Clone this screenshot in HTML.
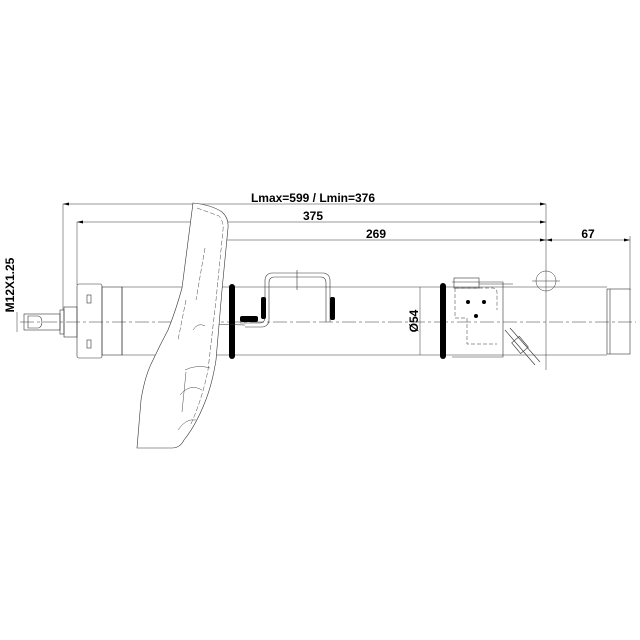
<!DOCTYPE html>
<html><head><style>html,body{margin:0;padding:0;background:#fff}svg{display:block}</style></head>
<body>
<svg width="640" height="640" viewBox="0 0 640 640" xmlns="http://www.w3.org/2000/svg" font-family="Liberation Sans, sans-serif" font-weight="bold" fill="none" stroke="#333" stroke-width="0.6">
<rect width="640" height="640" fill="#fff" stroke="none"/>
<g stroke-width="0.5">
<line x1="63" y1="204" x2="546" y2="204"/>
<line x1="77" y1="222" x2="546" y2="222"/>
<line x1="208" y1="240" x2="630" y2="240"/>
<line x1="63" y1="204" x2="63" y2="310"/>
<line x1="77" y1="222" x2="77" y2="285"/>
<line x1="208" y1="240" x2="208" y2="300"/>
<line x1="546" y1="204" x2="546" y2="370"/>
<line x1="630" y1="236" x2="630" y2="290"/>
<line x1="17" y1="312" x2="17" y2="332"/>
<line x1="420" y1="287" x2="420" y2="355"/>
</g>
<g fill="#000" stroke="none">
<polygon points="63,204 69,202.5 69,205.5"/>
<polygon points="546,204 540,202.5 540,205.5"/>
<polygon points="77,222 83,220.5 83,223.5"/>
<polygon points="546,222 540,220.5 540,223.5"/>
<polygon points="208,240 214,238.5 214,241.5"/>
<polygon points="546,240 540,238.5 540,241.5"/>
<polygon points="546,240 552,238.5 552,241.5"/>
<polygon points="630,240 624,238.5 624,241.5"/>
<text x="313" y="202" font-size="12" text-anchor="middle">Lmax=599 / Lmin=376</text>
<text x="313" y="220" font-size="12" text-anchor="middle">375</text>
<text x="376" y="238" font-size="12" text-anchor="middle">269</text>
<text x="588" y="238" font-size="12" text-anchor="middle">67</text>
<text transform="translate(14,285) rotate(-90)" font-size="12" text-anchor="middle">M12X1.25</text>
<text transform="translate(418,321) rotate(-90)" font-size="12" text-anchor="middle">Ø54</text>
</g>
<line x1="20" y1="322" x2="636" y2="322" stroke-width="0.5" stroke-dasharray="14,3,3,3"/>
<rect x="24" y="314" width="36" height="16"/>
<path d="M28,316 h10 a4,6 0 0 1 0,12 h-10z"/>
<rect x="60" y="310" width="4" height="24"/>
<rect x="64" y="307" width="13" height="30"/>
<rect x="77" y="284" width="25" height="74" rx="2"/>
<rect x="87" y="295" width="4" height="8"/><rect x="87" y="340" width="4" height="8"/>
<rect x="102" y="287" width="20" height="68"/>
<line x1="122" y1="287" x2="607" y2="287"/>
<line x1="122" y1="355" x2="607" y2="355"/>
<line x1="122" y1="287" x2="122" y2="355"/>
<rect x="607" y="289" width="23" height="65"/>
<line x1="610" y1="289" x2="610" y2="354"/>
<rect x="229" y="284" width="6" height="75" rx="3" fill="#000" stroke="none"/>
<rect x="440" y="283" width="6" height="76" rx="3" fill="#000" stroke="none"/>
<path d="M240,323 h20 a5,5 0 0 0 5,-5 v-38 a7,7 0 0 1 7,-7 h51 a7,7 0 0 1 7,7 v42"/>
<path d="M245,327 h17 a7,7 0 0 0 7,-7 v-38 a5,5 0 0 1 5,-5 h47 a5,5 0 0 1 5,5 v40"/>
<line x1="297" y1="270" x2="297" y2="290"/>
<rect x="261" y="297" width="5" height="22" rx="2" fill="#000" stroke="none"/>
<rect x="330" y="297" width="5" height="23" rx="2" fill="#000" stroke="none"/>
<rect x="240" y="316" width="18" height="6" rx="2" fill="#000" stroke="none"/>
<line x1="210" y1="324" x2="245" y2="325"/>
<path d="M193,203 Q212,205 222,212 Q229,218 228,228 L222,290 L216,360 Q212,385 205,402 Q196,425 184,440 Q180,448 172,448 L137,448 L141,400 Q145,375 153,360 Q160,345 168,330 Q176,310 182,288 Z" fill="#fff"/>
<path d="M197,208 L219,216 Q224,222 223,230 L216,300 L208,370 Q202,400 190,426" stroke-dasharray="5,2" stroke-width="0.45"/>
<path d="M186,300 L178,340 M205,248 L196,300" stroke-dasharray="5,2" stroke-width="0.45"/>
<path d="M193,330 q5,-8 12,-4 M185,370 q12,-6 25,-2 M180,395 q10,-12 22,-5 M178,430 q8,-12 18,-10 M186,372 l-4,40" stroke-width="0.45"/>
<path d="M452,282 h51 v75 h-51"/>
<path d="M455,288 h38 a4,4 0 0 1 4,4 v18 M455,288 v30 h12 v26 h30" stroke-dasharray="4,2" stroke-width="0.5"/>
<rect x="454" y="278" width="25" height="10"/>
<line x1="479" y1="284" x2="513" y2="284"/>
<g fill="#000" stroke="none"><circle cx="468" cy="302" r="2"/><circle cx="484" cy="302" r="2"/><circle cx="476" cy="316" r="2"/></g>
<path d="M505,330 L535,365 M510,328 L540,362" stroke-width="0.6"/>
<rect x="515" y="338" width="10" height="14" transform="rotate(-40 520 345)"/>
<circle cx="546" cy="281" r="10" stroke-width="0.5"/>
<line x1="532" y1="281" x2="560" y2="281" stroke-width="0.5"/>
</svg>
</body></html>
